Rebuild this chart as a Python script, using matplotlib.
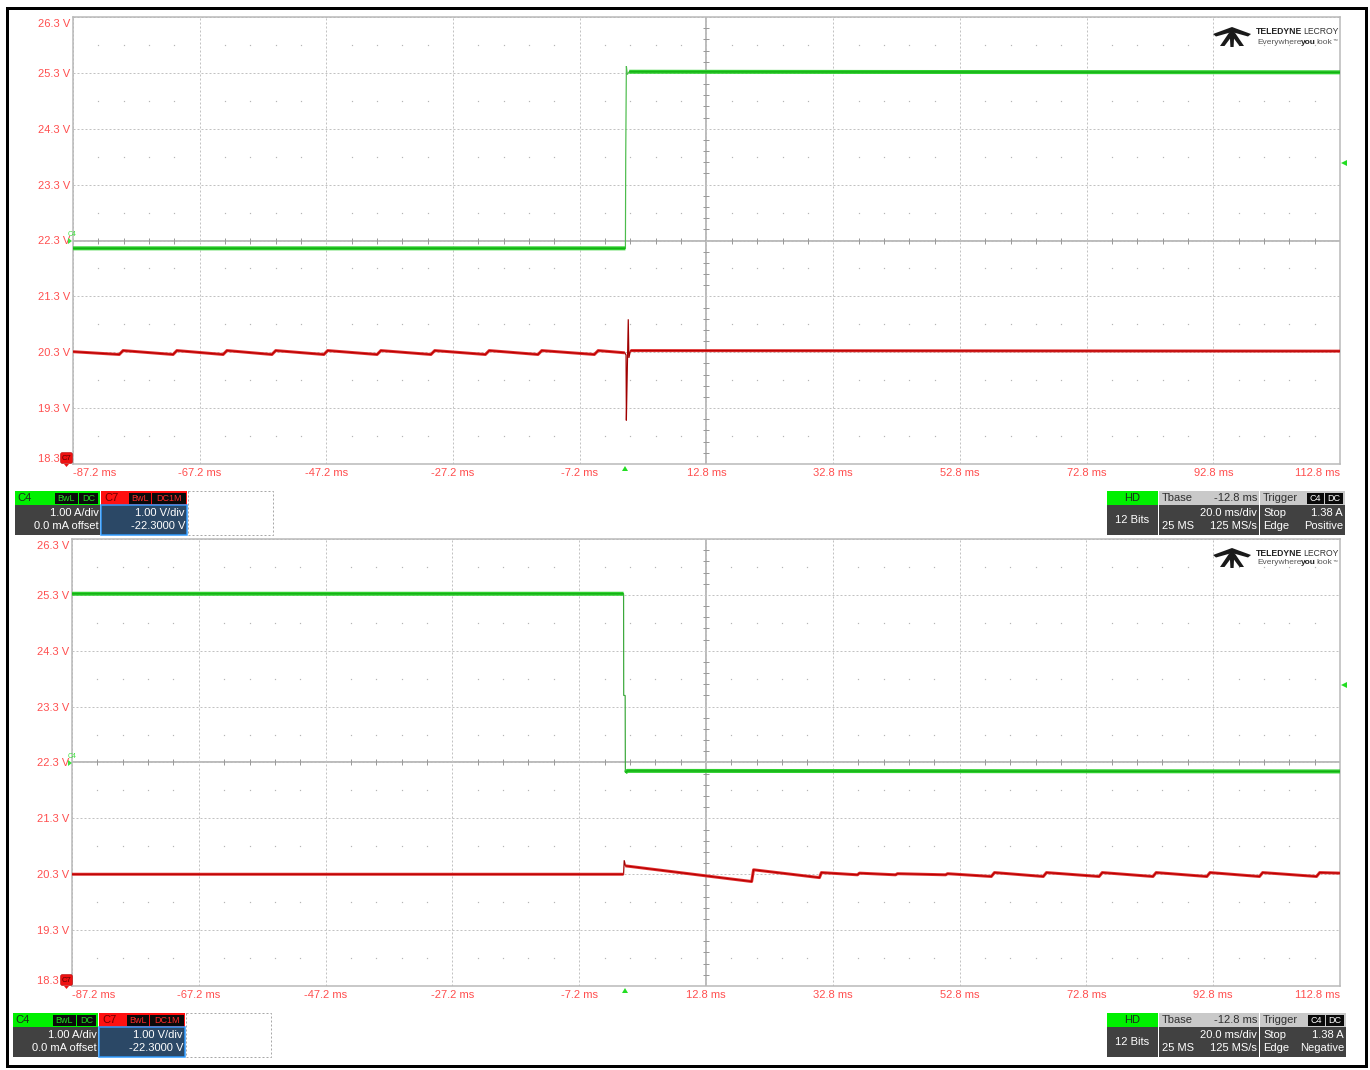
import numpy as np
import matplotlib
matplotlib.use("Agg")
import matplotlib.pyplot as plt
import matplotlib.transforms as mtransforms
from matplotlib.patches import Rectangle, Polygon, FancyBboxPatch

plt.rcParams['font.family'] = ['Liberation Sans', 'DejaVu Sans']

W, H = 1370, 1070
DPI = 100
PX = 72.0 / DPI  # points per pixel

# ---- scope scales ----
time_ticks = [-87.2, -67.2, -47.2, -27.2, -7.2, 12.8, 32.8, 52.8, 72.8, 92.8, 112.8]
volt_ticks = [18.3, 19.3, 20.3, 21.3, 22.3, 23.3, 24.3, 25.3, 26.3]
center_time = 12.8
center_volt = 22.3

# ---- upper capture: C4 rising edge (trigger positive) ----
up_c4_t = [-87.2, 0.0, 0.05, 0.15, 0.3, 0.6, 112.8]
up_c4_v = [22.16, 22.16, 23.8, 25.42, 25.27, 25.32, 25.31]

up_c7_t = [-87.2, -79.9, -79.3, -71.4, -70.8, -63.5, -62.9, -55.8, -55.2,
           -47.6, -47.0, -39.2, -38.6, -30.7, -30.1, -22.1, -21.5, -13.8,
           -13.2, -4.9, -4.3, -0.1, 0.1, 0.15, 0.3, 0.45, 0.55, 0.8, 112.8]
up_c7_v = [20.31, 20.26, 20.33, 20.26, 20.33, 20.26, 20.33, 20.26, 20.33,
           20.26, 20.33, 20.26, 20.33, 20.26, 20.33, 20.26, 20.33, 20.26,
           20.33, 20.26, 20.33, 20.29, 20.25, 19.08, 20.0, 20.89, 20.2, 20.33, 20.32]

# ---- lower capture: C4 falling edge (trigger negative) ----
dn_c4_t = [-87.2, -0.2, -0.18, 0.05, 0.08, 0.4, 112.8]
dn_c4_v = [25.32, 25.32, 23.5, 23.5, 22.12, 22.15, 22.14]

dn_c7_t = [-87.2, -0.2, -0.1, 0.1, 20.0, 20.3, 30.7, 31.0, 36.7, 37.0,
           42.7, 43.0, 50.6, 50.9, 57.8, 58.3, 66.0, 66.5, 74.8, 75.3,
           83.3, 83.8, 91.8, 92.3, 100.1, 100.6, 109.1, 109.6, 112.8]
dn_c7_v = [20.30, 20.30, 20.55, 20.45, 20.17, 20.38, 20.24, 20.33, 20.29, 20.32,
           20.29, 20.31, 20.29, 20.31, 20.26, 20.33, 20.26, 20.33, 20.26, 20.33,
           20.26, 20.33, 20.26, 20.33, 20.26, 20.33, 20.26, 20.33, 20.32]

fig = plt.figure(figsize=(W / DPI, H / DPI), dpi=DPI)
fig.patch.set_facecolor('white')

LABEL_RED = '#ff4f4f'
GRID = '#c2c2c2'


def make_grid_axes(x0, y0, x1, y1):
    ax = fig.add_axes([x0 / W, 1 - y1 / H, (x1 - x0) / W, (y1 - y0) / H])
    ax.set_xlim(time_ticks[0], time_ticks[-1])
    ax.set_ylim(volt_ticks[0], volt_ticks[-1])
    ax.set_xticks(time_ticks)
    ax.set_xticklabels([f"{t:.1f} ms" for t in time_ticks])
    ax.set_yticks(volt_ticks)
    ax.set_yticklabels([f"{v:.1f} V" for v in volt_ticks])
    ax.tick_params(axis='x', length=0, pad=4 * PX, labelsize=8, labelcolor=LABEL_RED)
    ax.tick_params(axis='y', length=0, pad=3 * PX, labelsize=8, labelcolor=LABEL_RED)
    xl = ax.get_xticklabels()
    xl[0].set_ha('left')
    xl[-1].set_ha('right')
    yl = ax.get_yticklabels()
    yl[0].set_va('bottom')
    yl[-1].set_va('top')
    yl[-1].set_transform(yl[-1].get_transform() +
                         mtransforms.ScaledTranslation(0, -2 / DPI, fig.dpi_scale_trans))
    ax.grid(True, color=GRID, lw=1 * PX, ls=(0, (2, 2)))
    for s in ax.spines.values():
        s.set_color('#b8b8b8')
        s.set_linewidth(1.5 * PX)
    # center crosshair
    ax.axhline(center_volt, color='#a6a6a6', lw=1.5 * PX, zorder=1.5)
    ax.axvline(center_time, color='#a6a6a6', lw=1.5 * PX, zorder=1.5)
    # fifth-division ticks on the crosshair
    fine_t = np.concatenate([np.linspace(a, b, 6)[1:-1] for a, b in zip(time_ticks[:-1], time_ticks[1:])])
    fine_v = np.concatenate([np.linspace(a, b, 6)[1:-1] for a, b in zip(volt_ticks[:-1], volt_ticks[1:])])
    ax.plot(fine_t, np.full_like(fine_t, center_volt), ls='none', marker='|',
            ms=6 * PX, mew=1 * PX, color='#9a9a9a', zorder=1.6)
    ax.plot(np.full_like(fine_v, center_time), fine_v, ls='none', marker='_',
            ms=6 * PX, mew=1 * PX, color='#9a9a9a', zorder=1.6)
    # dotted mid-division rows
    half_v = [(a + b) / 2 for a, b in zip(volt_ticks[:-1], volt_ticks[1:])]
    for hv in half_v:
        ax.plot(fine_t, np.full_like(fine_t, hv), ls='none', marker='s',
                ms=1.2 * PX, mew=0, color='#b5b5b5', zorder=1.2)
    return ax


def draw_trace(ax, t, v, thick_mask, band, core, thin, band_w, core_w):
    t = np.asarray(t)
    v = np.asarray(v)
    ax.plot(t, v, color=thin, lw=1.2 * PX, zorder=3, solid_joinstyle='miter')
    vt = np.where(thick_mask(t), v, np.nan)
    ax.plot(t, vt, color=band, lw=band_w * PX, zorder=3.1, solid_capstyle='butt')
    ax.plot(t, vt, color=core, lw=core_w * PX, zorder=3.2, solid_capstyle='butt')


ax_up = make_grid_axes(73, 17, 1340, 464)
draw_trace(ax_up, up_c4_t, up_c4_v, lambda t: (t <= 0.0) | (t >= 0.6),
           '#2fd02f', '#14b014', '#4cbc4c', 4.0, 1.4)
draw_trace(ax_up, up_c7_t, up_c7_v, lambda t: (t <= -0.1) | (t >= 0.8),
           '#e03030', '#b80000', '#a00000', 3.0, 1.2)

ax_dn = make_grid_axes(72, 539, 1340, 986)
draw_trace(ax_dn, dn_c4_t, dn_c4_v, lambda t: (t <= -0.2) | (t >= 0.08),
           '#2fd02f', '#14b014', '#3aa83a', 4.0, 1.4)
draw_trace(ax_dn, dn_c7_t, dn_c7_v, lambda t: (t <= -0.2) | (t >= 0.1),
           '#e03030', '#b80000', '#a00000', 3.0, 1.2)

# ---- overlay in pixel coordinates for screen furniture ----
ov = fig.add_axes([0, 0, 1, 1])
ov.set_xlim(0, W)
ov.set_ylim(H, 0)
ov.axis('off')
ov.patch.set_alpha(0)
ov.set_zorder(10)


def rect(x0, y0, x1, y1, fc, ec='none', lw=0, ls='-'):
    ov.add_patch(Rectangle((x0, y0), x1 - x0, y1 - y0, fc=fc, ec=ec, lw=lw * PX, ls=ls))


def txt(x, y, s, ha='left', color='white', size=8, weight='normal', va='center'):
    ov.text(x, y, s, ha=ha, va=va, color=color, fontsize=size, fontweight=weight)


# outer frame
ov.add_patch(Rectangle((7, 8), 1359, 1058, fc='none', ec='black', lw=3 * PX))


def logo(x0, y0):
    shapes = [
        # wings: a wide chevron
        [(0, 7), (19, 0), (38, 7), (35, 9.5), (19, 5), (3, 9.5)],
        # body
        [(16.5, 2), (21.5, 2), (20.6, 20), (17.4, 20)],
        # legs
        [(16.5, 5), (7, 19), (11.5, 19), (19, 9)],
        [(21.5, 5), (31, 19), (26.5, 19), (19, 9)],
    ]
    for pts in shapes:
        p = np.array(pts) + np.array([x0, y0])
        ov.add_patch(Polygon(p, closed=True, fc='#1a1a1a', ec='none'))
    ov.text(x0 + 43, y0 + 5, 'TELEDYNE', fontsize=6.2, fontweight='bold', color='#222222',
            va='center', ha='left')
    ov.text(x0 + 126, y0 + 5, 'LECROY', fontsize=6.2, color='#333333', va='center', ha='right')
    ov.text(x0 + 44, y0 + 15, 'Everywhere', fontsize=6.0, color='#555555', va='center', ha='left')
    ov.text(x0 + 88, y0 + 15, 'you', fontsize=6.0, color='#222222', fontweight='bold', va='center', ha='left')
    ov.text(x0 + 103, y0 + 15, 'look', fontsize=6.0, color='#555555', va='center', ha='left')
    ov.text(x0 + 120, y0 + 13, '\u2122', fontsize=3.5, color='#555555', va='center', ha='left')


logo(1213, 27)
logo(1213, 548)


def markers(top, bottom, center_y, trig_level_y, trig_x):
    # C4 offset marker
    txt(68, center_y - 7, 'C4', color='#3ee03e', size=5)
    ov.add_patch(Polygon([(68, center_y - 3), (72, center_y), (68, center_y + 3)],
                         closed=True, fc='#3ee03e', ec='none'))
    # C7 offset badge at bottom-left
    ov.add_patch(FancyBboxPatch((61, bottom - 11), 11, 10, boxstyle='round,pad=0.5,rounding_size=2',
                                fc='#ee1111', ec='#aa0000', lw=0.5 * PX))
    txt(66.5, bottom - 6, 'C7', ha='center', color='#5a0000', size=5.5)
    ov.add_patch(Polygon([(64, bottom), (69, bottom), (66.5, bottom + 3)],
                         closed=True, fc='#ee1111', ec='none'))
    # trigger time marker
    ov.add_patch(Polygon([(trig_x - 3, bottom + 7), (trig_x + 3, bottom + 7), (trig_x, bottom + 2)],
                         closed=True, fc='#22dd22', ec='none'))
    # trigger level marker on the right edge
    ov.add_patch(Polygon([(1347, trig_level_y - 3), (1347, trig_level_y + 3), (1341, trig_level_y)],
                         closed=True, fc='#22dd22', ec='none'))


markers(17, 464, 241, 163, 625)
markers(539, 986, 763, 685, 625)


def info_row(y0, dx, slope):
    yh = y0 + 14
    y1 = y0 + 44
    r1 = y0 + 22
    r2 = y0 + 35
    hc = y0 + 7
    # C4 descriptor
    a, b = 15 + dx, 100 + dx
    rect(a, y0, b, yh, '#00f000')
    rect(a, yh, b, y1, '#414141')
    txt(a + 2, hc, 'C4', color='#1c2a1c', size=8)
    rect(a + 40, y0 + 2, a + 63, yh - 1, '#0a0a0a')
    txt(a + 51.5, hc + 0.5, 'BwL', ha='center', color='#22dd22', size=6.5)
    rect(a + 64, y0 + 2, b - 2, yh - 1, '#0a0a0a')
    txt((a + 64 + b - 2) / 2, hc + 0.5, 'DC', ha='center', color='#22dd22', size=6.5)
    txt(b - 1, r1, '1.00 A/div', ha='right')
    txt(b - 1, r2, '0.0 mA offset', ha='right')
    # C7 descriptor (selected)
    a, b = 101 + dx, 187 + dx
    rect(a, y0, b, yh, '#ff1010')
    rect(a, yh, b, y1, '#2b4866', ec='#2f9bff', lw=1.5)
    txt(a + 3, hc, 'C7', color='#6a0000', size=8)
    rect(a + 28, y0 + 2, a + 50, yh - 1, '#0a0a0a')
    txt(a + 39, hc + 0.5, 'BwL', ha='center', color='#ff2a2a', size=6.5)
    rect(a + 51, y0 + 2, b - 1, yh - 1, '#0a0a0a')
    txt((a + 51 + b - 1) / 2, hc + 0.5, 'DC1M', ha='center', color='#ff2a2a', size=6.5)
    txt(b - 2, r1, '1.00 V/div', ha='right')
    txt(b - 2, r2, '-22.3000 V', ha='right')
    # empty slot
    rect(188 + dx, y0, 273 + dx, y1, 'none', ec='#a8a8a8', lw=1, ls=(0, (2, 2)))
    # HD
    rect(1107, y0, 1158, yh, '#00f000')
    rect(1107, yh, 1158, y1, '#414141')
    txt(1132.5, hc, 'HD', ha='center', color='#1c2a1c', size=8)
    txt(1132.5, (yh + y1) / 2, '12 Bits', ha='center')
    # Timebase
    rect(1159, y0, 1259, yh, '#c9c9c9')
    rect(1159, yh, 1259, y1, '#414141')
    txt(1162, hc, 'Tbase', color='#303030')
    txt(1257, hc, '-12.8 ms', ha='right', color='#303030')
    txt(1257, r1, '20.0 ms/div', ha='right')
    txt(1162, r2, '25 MS')
    txt(1257, r2, '125 MS/s', ha='right')
    # Trigger
    tr = 1345 + (1 if slope == 'Negative' else 0)
    rect(1260, y0, tr, yh, '#c9c9c9')
    rect(1260, yh, tr, y1, '#414141')
    txt(1263, hc, 'Trigger', color='#303030')
    rect(tr - 38, y0 + 2, tr - 21, yh - 1, '#0a0a0a')
    txt(tr - 29.5, hc + 0.5, 'C4', ha='center', color='white', size=6.5)
    rect(tr - 20, y0 + 2, tr - 2, yh - 1, '#0a0a0a')
    txt(tr - 11, hc + 0.5, 'DC', ha='center', color='white', size=6.5)
    txt(1263, r1, 'Stop')
    txt(tr - 2, r1, '1.38 A', ha='right')
    txt(1263, r2, 'Edge')
    txt(tr - 2, r2, slope, ha='right')


info_row(491, 0, 'Positive')
info_row(1013, -2, 'Negative')

fig.savefig('out.png', dpi=DPI, facecolor='white')
